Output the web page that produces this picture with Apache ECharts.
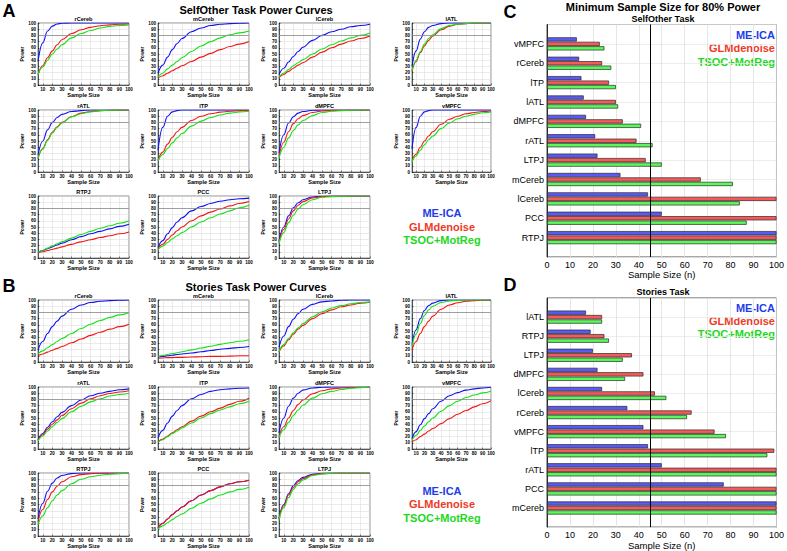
<!DOCTYPE html>
<html><head><meta charset="utf-8">
<script src="https://cdn.jsdelivr.net/npm/echarts@6/dist/echarts.min.js"></script>
<style>html,body{margin:0;padding:0;background:#fff}#c{width:787px;height:551px}</style>
</head><body><div id="c"></div>
<script>
// ---------- data ----------
const seriesNames = ['ME-ICA', 'GLMdenoise', 'TSOC+MotReg'];
const sampleSizes = [5, 10, 15, 20, 25, 30, 40, 50, 60, 70, 80, 90, 100];
const powerThreshold = 80;
const minSampleLine = 45;
const curveRegions = ['rCereb', 'mCereb', 'lCereb', 'lATL', 'rATL', 'lTP', 'dMPFC', 'vMPFC', 'RTPJ', 'PCC', 'LTPJ'];

// Panel A: SelfOther task power curves  (ME-ICA, GLMdenoise, TSOC+MotReg)
const A_rCereb_M = [38, 68, 87, 95, 98.5, 99.5, 100, 100, 100, 100, 100, 100, 100];
const A_rCereb_G = [17, 31, 44, 55, 65, 73, 83, 89, 93, 95.5, 97, 98, 98.5];
const A_rCereb_T = [17, 29, 40, 50, 58, 65, 76, 83, 88, 92, 94.5, 96, 97];
const A_mCereb_M = [19, 32, 45, 57, 67, 75, 86, 92, 96, 98, 99, 99.5, 100];
const A_mCereb_G = [11, 15, 19, 23, 27, 31, 38, 45, 51, 57, 62, 66, 70];
const A_mCereb_T = [13, 19, 26, 32, 38, 44, 54, 63, 70, 76, 81, 84, 87];
const A_lCereb_M = [17, 27, 37, 46, 54, 61, 72, 80, 86, 90, 94, 96, 98];
const A_lCereb_G = [12, 17, 22, 27, 32, 36, 45, 53, 60, 66, 71, 75, 79];
const A_lCereb_T = [13, 19, 25, 31, 36, 41, 50, 58, 65, 71, 76, 80, 84];
const A_lATL_M = [30, 55, 74, 86, 93, 96, 99, 100, 100, 100, 100, 100, 100];
const A_lATL_G = [22, 38, 52, 63, 72, 79, 89, 95, 98, 99, 100, 100, 100];
const A_lATL_T = [23, 40, 54, 66, 75, 81, 91, 96, 98, 99, 100, 100, 100];
const A_rATL_M = [27, 50, 68, 80, 88, 93, 97.5, 99, 100, 100, 100, 100, 100];
const A_rATL_G = [22, 38, 52, 64, 73, 80, 89, 95, 97.5, 99, 99.5, 100, 100];
const A_rATL_T = [22, 37, 51, 63, 72, 79, 89, 94, 97, 99, 99.5, 100, 100];
const A_lTP_M = [35, 72, 90, 97, 99, 100, 100, 100, 100, 100, 100, 100, 100];
const A_lTP_G = [19, 32, 45, 56, 65, 72, 83, 90, 94, 96.5, 98, 99, 99.5];
const A_lTP_T = [18, 28, 38, 47, 55, 62, 74, 82, 88, 92, 95, 97, 98];
const A_dMPFC_M = [30, 60, 79, 89, 95, 97.5, 99.5, 100, 100, 100, 100, 100, 100];
const A_dMPFC_G = [25, 48, 65, 78, 86, 91, 96, 98.5, 99.5, 100, 100, 100, 100];
const A_dMPFC_T = [22, 40, 55, 67, 76, 83, 91, 96, 98, 99, 99.5, 100, 100];
const A_vMPFC_M = [38, 72, 90, 97, 99, 100, 100, 100, 100, 100, 100, 100, 100];
const A_vMPFC_G = [18, 29, 40, 50, 58, 65, 77, 85, 90, 94, 96, 97.5, 98.5];
const A_vMPFC_T = [16, 26, 35, 44, 52, 58, 70, 79, 86, 90, 93, 95.5, 97];
const A_RTPJ_M = [9, 12, 15, 18, 21, 24, 29.5, 34.5, 39, 43, 47, 51, 54.5];
const A_RTPJ_G = [8, 10, 12, 14, 16, 18, 22, 26, 29.5, 33, 36, 39, 42];
const A_RTPJ_T = [9, 12.5, 16, 19.5, 23, 26, 32, 38, 43, 48, 52, 56, 60];
const A_PCC_M = [17, 28, 39, 49, 58, 65, 76, 83, 88, 91.5, 94, 95.5, 96.5];
const A_PCC_G = [15, 22, 30, 37, 44, 50, 60, 68, 74, 79, 84, 88, 91];
const A_PCC_T = [13, 19, 25, 31, 36, 41, 50, 58, 65, 71, 76, 81, 85];
const A_LTPJ_M = [27, 50, 68, 81, 89, 94, 98.5, 99.5, 100, 100, 100, 100, 100];
const A_LTPJ_G = [25, 46, 63, 76, 85, 91, 97, 99, 99.5, 100, 100, 100, 100];
const A_LTPJ_T = [23, 41, 57, 69, 79, 86, 94, 98, 99, 99.5, 100, 100, 100];

// Panel B: Stories task power curves
const B_rCereb_M = [19, 33, 46, 57, 66, 74, 85, 92, 96, 98, 99, 99.5, 100];
const B_rCereb_G = [10, 13, 16, 19, 22, 25, 31, 37, 43, 48, 53, 57, 61];
const B_rCereb_T = [13, 18, 23, 28, 33, 38, 46, 54, 61, 67, 72, 76, 80];
const B_mCereb_M = [8, 9, 10, 11, 12, 13, 14.5, 16.5, 18.5, 20.5, 22, 23.5, 25];
const B_mCereb_G = [6, 6.5, 7, 7, 7.5, 7.5, 8, 8.5, 9, 9, 9.5, 10, 10];
const B_mCereb_T = [9, 10.5, 12, 13.5, 15, 16.5, 19.5, 22.5, 25.5, 28.5, 31, 33.5, 36];
const B_lCereb_M = [24, 42, 57, 69, 78, 85, 93, 97, 98.5, 99.5, 100, 100, 100];
const B_lCereb_G = [16, 26, 36, 45, 53, 59, 70, 78, 84, 89, 92, 95, 96.5];
const B_lCereb_T = [17, 28, 38, 47, 55, 62, 73, 81, 87, 91, 94, 96, 97];
const B_lATL_M = [28, 52, 70, 83, 91, 95, 99, 100, 100, 100, 100, 100, 100];
const B_lATL_G = [19, 33, 46, 57, 66, 74, 85, 92, 95.5, 98, 99, 99.5, 100];
const B_lATL_T = [25, 45, 62, 75, 84, 90, 96, 98.5, 99.5, 100, 100, 100, 100];
const B_rATL_M = [15, 25, 35, 44, 52, 59, 70, 79, 86, 90, 93, 95.5, 97];
const B_rATL_G = [14, 23, 32, 40, 47, 54, 65, 74, 81, 86, 89.5, 92, 94];
const B_rATL_T = [13, 21, 29, 36, 43, 49, 60, 69, 76, 81, 85.5, 88, 90];
const B_lTP_M = [18, 30, 42, 53, 62, 70, 81, 88, 93, 95.5, 97, 98, 98.5];
const B_lTP_G = [11, 16, 21, 26, 31, 36, 45, 53, 60, 66, 72, 77, 82];
const B_lTP_T = [11, 15, 20, 25, 29, 34, 42, 50, 57, 63, 68, 73, 77];
const B_dMPFC_M = [26, 50, 69, 82, 90, 95, 98.5, 99.5, 100, 100, 100, 100, 100];
const B_dMPFC_G = [20, 36, 50, 62, 72, 79, 89, 94, 97, 98.5, 99, 99.5, 100];
const B_dMPFC_T = [18, 31, 43, 54, 63, 71, 82, 89, 93, 96, 98, 99, 99.5];
const B_vMPFC_M = [17, 28, 39, 49, 57, 65, 77, 86, 91, 95, 97, 98.5, 99.5];
const B_vMPFC_G = [11, 15, 20, 24, 29, 33, 41, 49, 56, 62, 68, 73, 78];
const B_vMPFC_T = [14, 22, 30, 37, 44, 50, 61, 70, 77, 83, 87, 90.5, 93];
const B_RTPJ_M = [27, 52, 71, 84, 92, 96, 99, 100, 100, 100, 100, 100, 100];
const B_RTPJ_G = [23, 42, 58, 70, 79, 86, 94, 97.5, 99, 99.5, 100, 100, 100];
const B_RTPJ_T = [18, 32, 45, 56, 65, 72, 83, 90, 94, 96.5, 98, 99, 99.5];
const B_PCC_M = [13, 20, 27, 34, 40, 46, 56, 65, 72, 78, 83, 86, 88.5];
const B_PCC_G = [13, 20, 27, 34, 40, 46, 56, 65, 72, 78, 83, 86, 88.5];
const B_PCC_T = [11, 16, 21, 26, 31, 35, 44, 52, 59, 65, 70, 74, 77.5];
const B_LTPJ_M = [28, 50, 67, 80, 88, 93, 98, 99.5, 100, 100, 100, 100, 100];
const B_LTPJ_G = [27, 48, 65, 77, 86, 91, 97, 99, 99.5, 100, 100, 100, 100];
const B_LTPJ_T = [26, 45, 61, 74, 83, 89, 96, 98.5, 99.5, 100, 100, 100, 100];

// Panel C: minimum sample size for 80% power, SelfOther (top to bottom)
const C_regions = ['vMPFC', 'rCereb', 'lTP', 'lATL', 'dMPFC', 'rATL', 'LTPJ', 'mCereb', 'lCereb', 'PCC', 'RTPJ'];
const C_meica = [13, 14, 15, 16, 17, 21, 22, 32, 44, 50, 100];
const C_glmd = [23, 24, 27, 30, 33, 39, 43, 67, 100, 100, 100];
const C_tsoc = [25, 28, 30, 31, 41, 46, 50, 81, 84, 87, 100];
// Panel D: Stories (top to bottom)
const D_regions = ['lATL', 'RTPJ', 'LTPJ', 'dMPFC', 'lCereb', 'rCereb', 'vMPFC', 'lTP', 'rATL', 'PCC', 'mCereb'];
const D_meica = [17, 19, 20, 22, 24, 35, 42, 44, 50, 77, 100];
const D_glmd = [24, 25, 37, 42, 47, 63, 73, 99, 100, 100, 100];
const D_tsoc = [24, 27, 33, 34, 52, 61, 78, 96, 100, 100, 100];

const A_curves = {
  rCereb: [A_rCereb_M, A_rCereb_G, A_rCereb_T], mCereb: [A_mCereb_M, A_mCereb_G, A_mCereb_T],
  lCereb: [A_lCereb_M, A_lCereb_G, A_lCereb_T], lATL: [A_lATL_M, A_lATL_G, A_lATL_T],
  rATL: [A_rATL_M, A_rATL_G, A_rATL_T], lTP: [A_lTP_M, A_lTP_G, A_lTP_T],
  dMPFC: [A_dMPFC_M, A_dMPFC_G, A_dMPFC_T], vMPFC: [A_vMPFC_M, A_vMPFC_G, A_vMPFC_T],
  RTPJ: [A_RTPJ_M, A_RTPJ_G, A_RTPJ_T], PCC: [A_PCC_M, A_PCC_G, A_PCC_T], LTPJ: [A_LTPJ_M, A_LTPJ_G, A_LTPJ_T]
};
const B_curves = {
  rCereb: [B_rCereb_M, B_rCereb_G, B_rCereb_T], mCereb: [B_mCereb_M, B_mCereb_G, B_mCereb_T],
  lCereb: [B_lCereb_M, B_lCereb_G, B_lCereb_T], lATL: [B_lATL_M, B_lATL_G, B_lATL_T],
  rATL: [B_rATL_M, B_rATL_G, B_rATL_T], lTP: [B_lTP_M, B_lTP_G, B_lTP_T],
  dMPFC: [B_dMPFC_M, B_dMPFC_G, B_dMPFC_T], vMPFC: [B_vMPFC_M, B_vMPFC_G, B_vMPFC_T],
  RTPJ: [B_RTPJ_M, B_RTPJ_G, B_RTPJ_T], PCC: [B_PCC_M, B_PCC_G, B_PCC_T], LTPJ: [B_LTPJ_M, B_LTPJ_G, B_LTPJ_T]
};

// ---------- layout / style ----------
const FONT = 'Liberation Sans, Arial, Helvetica, sans-serif';
const lineColors = ['#1010f4', '#f41414', '#16e016'];
const barColors = ['#5a5af8', '#f85a5a', '#5af85a'];
const textColors = ['#1f3de8', '#ee3a26', '#22d822'];
const colX = [[38, 129], [158, 249], [279, 370], [412, 491]];
const rowsA = [[23, 85], [110, 172], [196, 258]];
const rowsB = [[300, 362], [387, 449], [473, 536]];

const grids = [], xAxes = [], yAxes = [], series = [], graphics = [];
function txt(text, x, y, size, weight, color, align) {
  graphics.push({ type: 'text', x: x, y: y, silent: true,
    style: { text: text, font: weight + ' ' + size + 'px ' + FONT, fill: color || '#000',
      align: align || 'center', verticalAlign: 'middle' } });
}

function addCurvePanel(curves, rows) {
  curveRegions.forEach(function (reg, k) {
    const r = Math.floor(k / 4), c = k % 4;
    const [x0, x1] = colX[c], [y0, y1] = rows[r];
    const gi = grids.length;
    grids.push({ left: x0, top: y0, width: x1 - x0, height: y1 - y0, show: true,
      borderColor: '#444', borderWidth: 0.6, backgroundColor: '#fff' });
    xAxes.push({ gridIndex: gi, type: 'value', min: 5, max: 100, splitNumber: 10,
      axisLine: { lineStyle: { color: '#000', width: 0.6 } },
      axisTick: { inside: true, length: 1.5, lineStyle: { width: 0.5 } },
      axisLabel: { fontSize: 4.6, fontWeight: 'bold', fontFamily: FONT, color: '#000', margin: 1.5, showMinLabel: false, interval: 0 },
      splitLine: { show: true, lineStyle: { color: '#d6d6d6', width: 0.5 } },
      name: 'Sample Size', nameLocation: 'middle', nameGap: 6,
      nameTextStyle: { fontSize: 5.6, fontWeight: 'bold', fontFamily: FONT, color: '#000' } });
    yAxes.push({ gridIndex: gi, type: 'value', min: 0, max: 100, interval: 10,
      axisLine: { show: true, lineStyle: { color: '#000', width: 0.6 } },
      axisTick: { show: true, inside: true, length: 1.5, lineStyle: { width: 0.5 } },
      axisLabel: { fontSize: 4.6, fontWeight: 'bold', fontFamily: FONT, color: '#000', margin: 2 },
      splitLine: { show: true, lineStyle: { color: '#d6d6d6', width: 0.5 } },
      name: 'Power', nameLocation: 'middle', nameGap: 8.5,
      nameTextStyle: { fontSize: 5, fontWeight: 'bold', fontFamily: FONT, color: '#000' } });
    txt(reg, (x0 + x1) / 2, y0 - 4, 5.6, 'bold', '#000');
    curves[reg].forEach(function (vals, s) {
      const ser = { type: 'line', name: seriesNames[s], xAxisIndex: gi, yAxisIndex: gi,
        data: sampleSizes.map(function (x, i) { return [x, vals[i]]; }),
        smooth: 0.4, smoothMonotone: 'x', showSymbol: false, symbol: 'none', silent: true,
        lineStyle: { color: lineColors[s], width: 1.1 }, itemStyle: { color: lineColors[s] }, z: 3 };
      if (s === 0) {
        ser.markLine = { silent: true, symbol: 'none', label: { show: false }, animation: false,
          lineStyle: { color: '#8a8a8a', type: 'solid', width: 0.8 }, data: [{ yAxis: powerThreshold }] };
      }
      series.push(ser);
    });
  });
}
addCurvePanel(A_curves, rowsA);
addCurvePanel(B_curves, rowsB);

function addBarPanel(regions, vals, top, bottom) {
  const gi = grids.length;
  grids.push({ left: 547, width: 232, top: top, height: bottom - top, show: true,
    borderColor: '#222', borderWidth: 0.8, backgroundColor: '#fff' });
  xAxes.push({ gridIndex: gi, type: 'value', min: 0, max: 100, interval: 10,
    axisLine: { lineStyle: { color: '#000', width: 0.8 } },
    axisTick: { inside: true, length: 2.5, lineStyle: { color: '#000' } },
    axisLabel: { fontSize: 9, fontFamily: FONT, color: '#000', margin: 3 },
    splitLine: { show: true, lineStyle: { color: '#e0e0e0', width: 0.8 } },
    name: 'Sample Size (n)', nameLocation: 'middle', nameGap: 10.5,
    nameTextStyle: { fontSize: 9.5, fontFamily: FONT, color: '#000' } });
  yAxes.push({ gridIndex: gi, type: 'category', inverse: true, boundaryGap: false,
    data: [''].concat(regions, ['']),
    axisLine: { show: true, lineStyle: { color: '#000', width: 0.8 } },
    axisTick: { show: false },
    axisLabel: { fontSize: 9, fontFamily: FONT, color: '#000', margin: 3, interval: 0 },
    splitLine: { show: true, lineStyle: { color: '#e8e8e8', width: 0.8 } } });
  vals.forEach(function (arr, s) {
    const ser = { type: 'bar', name: seriesNames[s], xAxisIndex: gi, yAxisIndex: gi,
      data: ['-'].concat(arr, ['-']), barWidth: 4.2, barGap: '6%', silent: true,
      itemStyle: { color: barColors[s], borderColor: '#2a2a2a', borderWidth: 0.7 } };
    if (s === 0) {
      ser.markLine = { silent: true, symbol: 'none', label: { show: false }, animation: false, z: 10,
        lineStyle: { color: '#000', type: 'solid', width: 1 }, data: [{ xAxis: minSampleLine }] };
    }
    series.push(ser);
  });
}
addBarPanel(C_regions, [C_meica, C_glmd, C_tsoc], 24.5, 257);
addBarPanel(D_regions, [D_meica, D_glmd, D_tsoc], 298, 530.5);

// headings and legends
txt('A', 9, 11, 18, 'bold', '#000');
txt('B', 9, 286, 18, 'bold', '#000');
txt('C', 510, 12, 18, 'bold', '#000');
txt('D', 510, 285, 18, 'bold', '#000');
txt('SelfOther Task Power Curves', 256, 10, 11, 'bold', '#000');
txt('Stories Task Power Curves', 256, 286.5, 11, 'bold', '#000');
txt('Minimum Sample Size for 80% Power', 663, 7, 11, 'bold', '#000');
txt('SelfOther Task', 663, 18.5, 9, 'bold', '#000');
txt('Stories Task', 663, 292, 9, 'bold', '#000');
[[213, 227, 240], [491, 504, 518]].forEach(function (ys) {
  seriesNames.forEach(function (n, s) { txt(n, 442, ys[s], 11, 'bold', textColors[s], 'center'); });
});
[[35, 48, 62], [308, 321, 334]].forEach(function (ys) {
  seriesNames.forEach(function (n, s) { txt(n, 775, ys[s], 11, 'bold', textColors[s], 'right'); });
});

const chart = echarts.init(document.getElementById('c'), null, { renderer: 'svg' });
chart.setOption({
  backgroundColor: '#fff', animation: false,
  grid: grids, xAxis: xAxes, yAxis: yAxes, series: series, graphic: graphics
});
</script></body></html>
